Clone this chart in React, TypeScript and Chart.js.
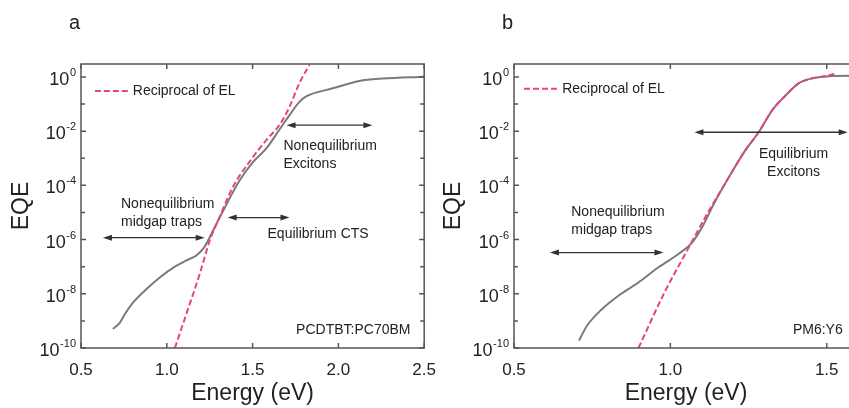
import React, { useEffect, useRef } from 'react';
import { Chart, registerables } from 'chart.js';

Chart.register(...registerables);

const FONT = 'Arial, "Liberation Sans", Helvetica, sans-serif';
const GRAY = '#7a7a7a';
const PINK = '#e8408e';
const INK = '#222222';
const FRAME = '#555555';

// ---------- Panel a: PCDTBT:PC70BM ----------
const energyA_EQE = [0.686, 0.727, 0.756, 0.804, 0.882, 0.959, 1.047, 1.114, 1.172, 1.211, 1.24, 1.289, 1.34, 1.424, 1.502, 1.58, 1.657, 1.715, 1.773, 1.812, 1.967, 2.122, 2.258, 2.5];
const eqeA = [5.0e-10, 8.7e-10, 1.8e-9, 4.8e-9, 1.5e-8, 4.0e-8, 1.0e-7, 1.7e-7, 2.6e-7, 4.5e-7, 9.1e-7, 3.8e-6, 1.6e-5, 1.5e-4, 7.2e-4, 2.3e-3, 1.15e-2, 3.9e-2, 0.12, 0.19, 0.38, 0.71, 0.87, 1.02];
const energyA_EL = [1.047, 1.114, 1.192, 1.25, 1.308, 1.385, 1.502, 1.58, 1.657, 1.715, 1.773, 1.831];
const elA = [1.0e-10, 1.8e-9, 5.4e-8, 9.1e-7, 6.8e-6, 8.7e-5, 1.1e-3, 4.7e-3, 1.7e-2, 7.9e-2, 0.59, 2.75];
const xTicksA = [0.5, 1.0, 1.5, 2.0, 2.5];

// ---------- Panel b: PM6:Y6 ----------
const energyB_EQE = [0.708, 0.733, 0.781, 0.834, 0.898, 0.962, 1.027, 1.07, 1.102, 1.14, 1.187, 1.24, 1.283, 1.326, 1.369, 1.411, 1.454, 1.508, 1.6];
const eqeB = [1.9e-10, 6.5e-10, 2.7e-9, 8.5e-9, 2.6e-8, 9.5e-8, 3.0e-7, 7.9e-7, 2.9e-6, 2.2e-5, 2.0e-4, 2.0e-3, 9.3e-3, 6.0e-2, 0.21, 0.59, 0.89, 1.07, 1.1];
const energyB_EL = [0.898, 0.984, 1.048, 1.112, 1.187, 1.24, 1.283, 1.326, 1.369, 1.411, 1.454, 1.508, 1.529];
const elB = [1.0e-10, 1.3e-8, 3.0e-7, 6.8e-6, 2.0e-4, 2.0e-3, 9.3e-3, 6.0e-2, 0.21, 0.59, 0.89, 1.15, 1.35];
const xTicksB = [0.5, 1.0, 1.5];

// ---------- shared axis ticks (log10 exponents) ----------
const yMajorExp = [0, -2, -4, -6, -8, -10];
const yMinorExp = [-1, -3, -5, -7, -9];

const legendLabel = 'Reciprocal of EL';

type TextNote = { lines: string[]; x: number; y: number; align: CanvasTextAlign };
type ArrowNote = { x1: number; x2: number; y: number };

type PanelCfg = {
  letter: string;
  eqeE: number[];
  eqe: number[];
  elE: number[];
  el: number[];
  xMin: number;
  xMax: number;
  xTicks: number[];
  left: number;
  width: number;
  yWidth: number;
  padRight: number;
  titlePad: number;
  legend: { x1: number; x2: number; tx: number; y: number };
  texts: TextNote[];
  arrows: ArrowNote[];
};

const panelA: PanelCfg = {
  letter: 'a',
  eqeE: energyA_EQE,
  eqe: eqeA,
  elE: energyA_EL,
  el: elA,
  xMin: 0.5,
  xMax: 2.5,
  xTicks: xTicksA,
  left: 0,
  width: 440,
  yWidth: 81,
  padRight: 15,
  titlePad: 8,
  legend: { x1: 0.581, x2: 0.773, tx: 0.802, y: -0.52 },
  texts: [
    { lines: ['Nonequilibrium', 'Excitons'], x: 1.68, y: -2.56, align: 'left' },
    { lines: ['Nonequilibrium', 'midgap traps'], x: 0.733, y: -4.69, align: 'left' },
    { lines: ['Equilibrium CTS'], x: 1.587, y: -5.8, align: 'left' },
    { lines: ['PCDTBT:PC70BM'], x: 2.42, y: -9.33, align: 'right' },
  ],
  arrows: [
    { x1: 1.698, x2: 2.198, y: -1.78 },
    { x1: 0.628, x2: 1.221, y: -5.93 },
    { x1: 1.355, x2: 1.715, y: -5.19 },
  ],
};

const panelB: PanelCfg = {
  letter: 'b',
  eqeE: energyB_EQE,
  eqe: eqeB,
  elE: energyB_EL,
  el: elB,
  xMin: 0.5,
  xMax: 1.6,
  xTicks: xTicksB,
  left: 430,
  width: 440,
  yWidth: 84,
  padRight: 12,
  titlePad: 10,
  legend: { x1: 0.532, x2: 0.641, tx: 0.654, y: -0.44 },
  texts: [
    { lines: ['Equilibrium', 'Excitons'], x: 1.394, y: -2.83, align: 'center' },
    { lines: ['Nonequilibrium', 'midgap traps'], x: 0.683, y: -5.0, align: 'left' },
    { lines: ['PM6:Y6'], x: 1.551, y: -9.33, align: 'right' },
  ],
  arrows: [
    { x1: 1.077, x2: 1.567, y: -2.04 },
    { x1: 0.615, x2: 0.978, y: -6.48 },
  ],
};

function drawArrow(ctx: CanvasRenderingContext2D, x1: number, x2: number, y: number) {
  const head = 9;
  const hw = 3;
  ctx.strokeStyle = '#333';
  ctx.fillStyle = '#333';
  ctx.lineWidth = 1.3;
  ctx.beginPath();
  ctx.moveTo(x1 + head - 1, y);
  ctx.lineTo(x2 - head + 1, y);
  ctx.stroke();
  ctx.beginPath();
  ctx.moveTo(x1, y);
  ctx.lineTo(x1 + head, y - hw);
  ctx.lineTo(x1 + head, y + hw);
  ctx.closePath();
  ctx.fill();
  ctx.beginPath();
  ctx.moveTo(x2, y);
  ctx.lineTo(x2 - head, y - hw);
  ctx.lineTo(x2 - head, y + hw);
  ctx.closePath();
  ctx.fill();
}

function makeOverlay(cfg: PanelCfg) {
  return {
    id: 'overlay' + cfg.letter,
    afterDraw(chart: any) {
      const { ctx, chartArea: ca, scales } = chart;
      const xs = scales.x;
      const ys = scales.y;
      const px = (e: number) => xs.getPixelForValue(e);
      const py = (exp: number) => ys.getPixelForValue(Math.pow(10, exp));
      ctx.save();

      // frame
      ctx.strokeStyle = FRAME;
      ctx.lineWidth = 1.5;
      ctx.strokeRect(ca.left, ca.top, ca.right - ca.left, ca.bottom - ca.top);

      // inward ticks
      ctx.beginPath();
      cfg.xTicks.forEach((v) => {
        const x = px(v);
        ctx.moveTo(x, ca.bottom);
        ctx.lineTo(x, ca.bottom - 5);
        ctx.moveTo(x, ca.top);
        ctx.lineTo(x, ca.top + 5);
      });
      yMajorExp.forEach((e) => {
        const y = py(e);
        ctx.moveTo(ca.left, y);
        ctx.lineTo(ca.left + 5, y);
        ctx.moveTo(ca.right, y);
        ctx.lineTo(ca.right - 5, y);
      });
      yMinorExp.forEach((e) => {
        const y = py(e);
        ctx.moveTo(ca.left, y);
        ctx.lineTo(ca.left + 4, y);
        ctx.moveTo(ca.right, y);
        ctx.lineTo(ca.right - 4, y);
      });
      ctx.stroke();

      // y tick labels 10^n
      ctx.fillStyle = INK;
      ctx.textBaseline = 'alphabetic';
      ctx.textAlign = 'right';
      yMajorExp.forEach((e) => {
        const y = py(e);
        const right = ca.left - 5;
        const sup = String(e);
        ctx.font = `11px ${FONT}`;
        ctx.fillText(sup, right, y - 1);
        const w = ctx.measureText(sup).width;
        ctx.font = `18px ${FONT}`;
        ctx.fillText('10', right - w - 0.5, y + 8);
      });

      // legend
      const lg = cfg.legend;
      ctx.strokeStyle = PINK;
      ctx.lineWidth = 2;
      ctx.setLineDash([6, 3]);
      ctx.beginPath();
      ctx.moveTo(px(lg.x1), py(lg.y));
      ctx.lineTo(px(lg.x2), py(lg.y));
      ctx.stroke();
      ctx.setLineDash([]);
      ctx.fillStyle = INK;
      ctx.font = `14px ${FONT}`;
      ctx.textAlign = 'left';
      ctx.textBaseline = 'middle';
      ctx.fillText(legendLabel, px(lg.tx), py(lg.y));

      // text notes
      cfg.texts.forEach((t) => {
        ctx.textAlign = t.align;
        t.lines.forEach((line, i) => {
          ctx.fillText(line, px(t.x), py(t.y) + i * 18);
        });
      });

      // arrows
      cfg.arrows.forEach((a) => drawArrow(ctx, px(a.x1), px(a.x2), py(a.y)));

      // panel letter
      ctx.fillStyle = INK;
      ctx.font = `20px ${FONT}`;
      ctx.textAlign = 'left';
      ctx.textBaseline = 'alphabetic';
      ctx.fillText(cfg.letter, ca.left - 12, 28.5);

      ctx.restore();
    },
  };
}

function Panel({ cfg }: { cfg: PanelCfg }) {
  const ref = useRef<HTMLCanvasElement>(null);
  useEffect(() => {
    if (!ref.current) return;
    const chart = new Chart(ref.current, {
      type: 'line',
      data: {
        datasets: [
          {
            label: legendLabel,
            data: cfg.elE.map((x, i) => ({ x, y: cfg.el[i] })),
            borderColor: PINK,
            borderDash: [6, 3],
            borderWidth: 2,
            pointRadius: 0,
            cubicInterpolationMode: 'monotone',
            order: 0,
          },
          {
            label: 'EQE',
            data: cfg.eqeE.map((x, i) => ({ x, y: cfg.eqe[i] })),
            borderColor: GRAY,
            borderWidth: 2,
            pointRadius: 0,
            cubicInterpolationMode: 'monotone',
            order: 1,
          },
        ],
      },
      options: {
        animation: false,
        responsive: false,
        devicePixelRatio: 1,
        layout: { padding: { top: 64, right: cfg.padRight, bottom: 0, left: 0 } },
        plugins: { legend: { display: false }, tooltip: { enabled: false } },
        scales: {
          x: {
            type: 'linear',
            min: cfg.xMin,
            max: cfg.xMax,
            afterBuildTicks: (s: any) => {
              s.ticks = cfg.xTicks.map((v) => ({ value: v }));
            },
            afterFit: (s: any) => {
              s.height = 60;
            },
            grid: { display: false },
            border: { display: false },
            ticks: {
              callback: (v: any) => Number(v).toFixed(1),
              font: { family: FONT, size: 17 },
              color: INK,
              padding: 4,
              maxRotation: 0,
              autoSkip: false,
            },
            title: {
              display: true,
              text: 'Energy (eV)',
              font: { family: FONT, size: 23 },
              color: INK,
              padding: { top: 0, bottom: 1 },
            },
          },
          y: {
            type: 'logarithmic',
            min: 1e-10,
            max: 3,
            afterFit: (s: any) => {
              s.width = cfg.yWidth;
            },
            grid: { display: false },
            border: { display: false },
            ticks: { display: false },
            title: {
              display: true,
              text: 'EQE',
              font: { family: FONT, size: 23 },
              color: INK,
              padding: { top: cfg.titlePad, bottom: 0 },
            },
          },
        },
      } as any,
      plugins: [makeOverlay(cfg)],
    });
    return () => chart.destroy();
  }, [cfg]);
  return (
    <canvas
      ref={ref}
      width={cfg.width}
      height={408}
      style={{ position: 'absolute', left: cfg.left, top: 0, width: cfg.width, height: 408, display: 'block' }}
    />
  );
}

export default function App() {
  return (
    <div
      style={{
        position: 'absolute',
        left: 0,
        top: 0,
        width: 849,
        height: 408,
        overflow: 'hidden',
        background: '#ffffff',
      }}
    >
      <Panel cfg={panelA} />
      <Panel cfg={panelB} />
    </div>
  );
}
